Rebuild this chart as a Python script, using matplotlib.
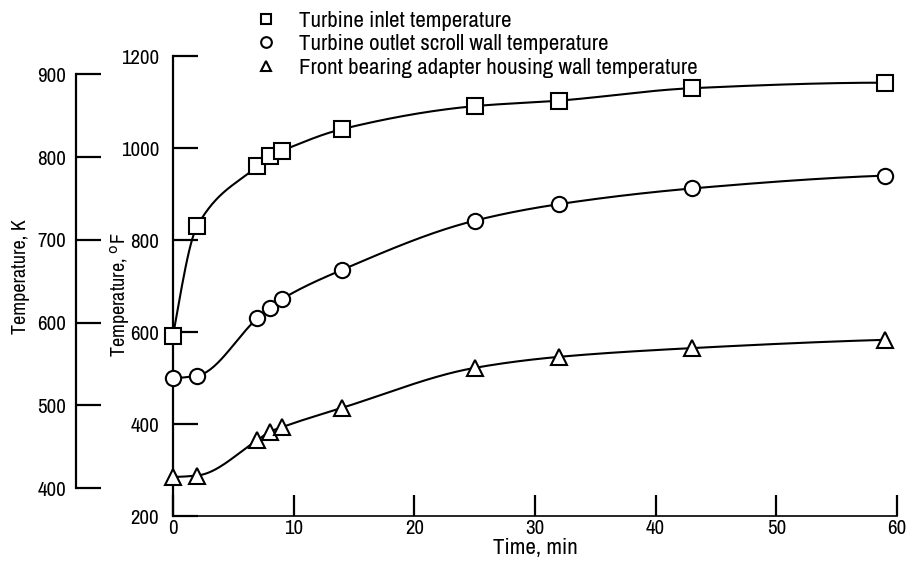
import numpy as np
import matplotlib
matplotlib.use("Agg")
from matplotlib import pyplot as plt
from matplotlib import font_manager

# look for a narrow face, the original lettering is condensed
narrow = None
for f in font_manager.fontManager.ttflist:
    if ('Narrow' in f.name or 'Condensed' in f.name) and f.weight in (400, 'normal', 'regular'):
        narrow = f.name
        break
if narrow is None:
    for f in font_manager.fontManager.ttflist:
        if f.stretch not in ('normal', 500) and f.style == 'normal':
            narrow = f.name
            break
fams = [narrow, 'DejaVu Sans'] if narrow else ['Liberation Sans', 'DejaVu Sans']
plt.rcParams['font.family'] = fams

# time, min
time = [0, 2, 7, 8, 9, 14, 25, 32, 43, 59]

# temperatures, deg F
inlet = [592, 830, 961, 983, 994, 1041, 1091, 1103, 1130, 1142]
scroll = [500, 505, 630, 652, 671, 735, 842, 878, 912, 940]
bearing = [285, 288, 365, 383, 393, 435, 522, 546, 565, 583]

labels = ["Turbine inlet temperature",
          "Turbine outlet scroll wall temperature",
          "Front bearing adapter housing wall temperature"]
markers = ['s', 'o', '^']

x_ticks = [0, 10, 20, 30, 40, 50, 60]
f_ticks = [200, 400, 600, 800, 1000, 1200]
k_ticks = [400, 500, 600, 700, 800, 900]


def f2k(f):
    return (np.asarray(f) - 32.0) * 5.0 / 9.0 + 273.15


def k2f(k):
    return (np.asarray(k) - 273.15) * 9.0 / 5.0 + 32.0


def pchip(x, y, xs):
    # monotone cubic (Fritsch-Carlson), only to draw the faired curve
    x = np.asarray(x, float)
    y = np.asarray(y, float)
    h = np.diff(x)
    d = np.diff(y) / h
    n = len(x)
    m = np.zeros(n)
    for k in range(1, n - 1):
        if d[k - 1] * d[k] > 0:
            w1 = 2 * h[k] + h[k - 1]
            w2 = h[k] + 2 * h[k - 1]
            m[k] = (w1 + w2) / (w1 / d[k - 1] + w2 / d[k])
    m[0] = ((2 * h[0] + h[1]) * d[0] - h[0] * d[1]) / (h[0] + h[1])
    if np.sign(m[0]) != np.sign(d[0]):
        m[0] = 0
    m[-1] = ((2 * h[-1] + h[-2]) * d[-1] - h[-1] * d[-2]) / (h[-1] + h[-2])
    if np.sign(m[-1]) != np.sign(d[-1]):
        m[-1] = 0
    idx = np.clip(np.searchsorted(x, xs) - 1, 0, n - 2)
    t = (xs - x[idx]) / h[idx]
    h00 = 2 * t**3 - 3 * t**2 + 1
    h10 = t**3 - 2 * t**2 + t
    h01 = -2 * t**3 + 3 * t**2
    h11 = t**3 - t**2
    return (h00 * y[idx] + h10 * h[idx] * m[idx]
            + h01 * y[idx + 1] + h11 * h[idx] * m[idx + 1])


scale = 1.0 if narrow else 0.85
fs_tick = 15 * scale
fs_lab = 16.5 * scale
fs_ylab = 14.5 * scale

fig = plt.figure(figsize=(9.08, 5.63), dpi=100)
ax = fig.add_axes([173 / 908, 1 - 516 / 563, 724 / 908, 460 / 563])

xs = np.linspace(time[0], time[-1], 400)
handles = []
for series, mk in zip([inlet, scroll, bearing], markers):
    ax.plot(xs, pchip(time, series, xs), color='black', lw=1.5, zorder=2)
    h, = ax.plot(time, series, ls='none', marker=mk, ms=11, mfc='white',
                 mec='black', mew=1.5, zorder=3, clip_on=False)
    handles.append(h)

ax.set_xlim(0, 60)
ax.set_ylim(200, 1200)
ax.set_xticks(x_ticks)
ax.set_yticks(f_ticks)
for s in ['top', 'right']:
    ax.spines[s].set_visible(False)
ax.spines['left'].set_linewidth(1.6)
ax.spines['bottom'].set_linewidth(1.2)
ax.tick_params(axis='y', direction='in', length=18, width=1.6,
               labelsize=fs_tick, pad=10)
ax.tick_params(axis='x', direction='in', length=15, width=1.6,
               labelsize=fs_tick, pad=2)
ax.set_xlabel("Time, min", fontsize=fs_lab, labelpad=0)
ax.set_ylabel(r"Temperature, $^{\mathrm{o}}$F", fontsize=fs_ylab)
ax.yaxis.set_label_coords(132 / 908, 1 - 295 / 563, transform=fig.transFigure)

# kelvin scale, off to the left
kax = ax.secondary_yaxis(-0.134, functions=(f2k, k2f))
kax.set_yticks(k_ticks)
kax.spines['left'].set_bounds(400, 900)
kax.spines['left'].set_linewidth(1.6)
kax.tick_params(direction='in', length=18, width=1.6, labelsize=fs_tick, pad=7)
kax.set_ylabel("Temperature, K", fontsize=fs_ylab)
kax.yaxis.set_label_coords(30 / 908, 1 - 277 / 563, transform=fig.transFigure)

fig.legend(handles, labels, loc='upper left', bbox_to_anchor=(242 / 908, 1 - 2 / 563),
           frameon=False, markerscale=0.7, handlelength=1.3,
           handletextpad=0.8, labelspacing=0.14, fontsize=fs_lab,
           borderaxespad=0.0)

fig.savefig("out.png", dpi=100)
